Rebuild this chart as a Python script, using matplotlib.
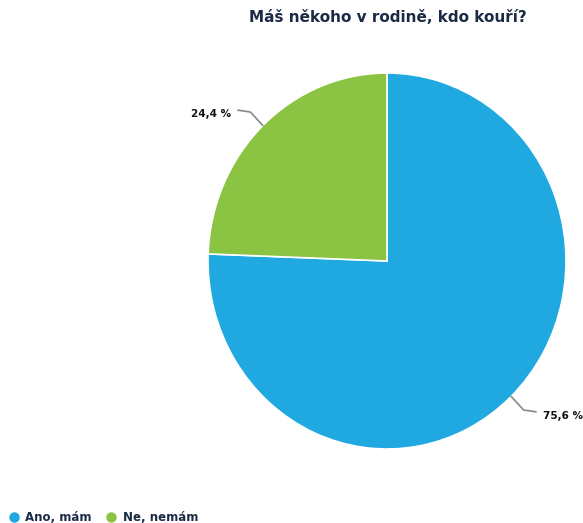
import numpy as np
import matplotlib.pyplot as plt
from matplotlib.lines import Line2D

# Answers and their shares
labels = ['Ano, mám', 'Ne, nemám']
shares = [75.6, 24.4]
pct_text = ['75,6 %', '24,4 %']
colors = ['#20a8e0', '#8bc443']

W, H = 583, 523
fig = plt.figure(figsize=(W / 100, H / 100), dpi=100)
fig.patch.set_facecolor('white')

# pie placed by pixel centre and radii (slightly taller than wide)
cx, cy, rx, ry = 387, 261, 179, 188
ax = fig.add_axes([(cx - rx) / W, (H - cy - ry) / H, 2 * rx / W, 2 * ry / H])
wedges, _ = ax.pie(shares, colors=colors, startangle=90, counterclock=False,
                   wedgeprops=dict(edgecolor='white', linewidth=1.2))
ax.set_xlim(-1, 1)
ax.set_ylim(-1, 1)
ax.set_aspect('auto')
ax.axis('off')

# leader lines and percentage labels
for w, txt in zip(wedges, pct_text):
    ang = np.deg2rad((w.theta1 + w.theta2) / 2)
    x0, y0 = np.cos(ang), np.sin(ang)
    side = np.sign(x0)
    x1, y1 = 1.10 * x0, 1.10 * y0
    x2 = x1 + side * 0.07
    y2 = y1 + 0.01 * np.sign(y0)
    ax.plot([x0, x1, x2], [y0, y1, y2], color='#888888', lw=1.2,
            clip_on=False, solid_capstyle='round')
    ax.text(x2 + side * 0.04, y2 - 0.02, txt,
            ha='left' if side > 0 else 'right', va='center',
            fontsize=7.5, fontweight='bold', color='#111111')

fig.text(388 / W, 1 - 18 / H, 'Máš někoho v rodině, kdo kouří?', ha='center',
         va='center', fontsize=11, fontweight='bold', color='#1b2a45')

handles = [Line2D([], [], marker='o', ls='', markersize=6.5, color=c) for c in colors]
fig.legend(handles, labels, loc='lower left', bbox_to_anchor=(-0.005, -0.022),
           ncol=2, frameon=False, handletextpad=0.45, handlelength=1.0,
           columnspacing=1.2, prop=dict(weight='bold', size=8.5))
for t in fig.legends[0].get_texts():
    t.set_color('#1b2a45')

fig.savefig('out.png', dpi=100)
